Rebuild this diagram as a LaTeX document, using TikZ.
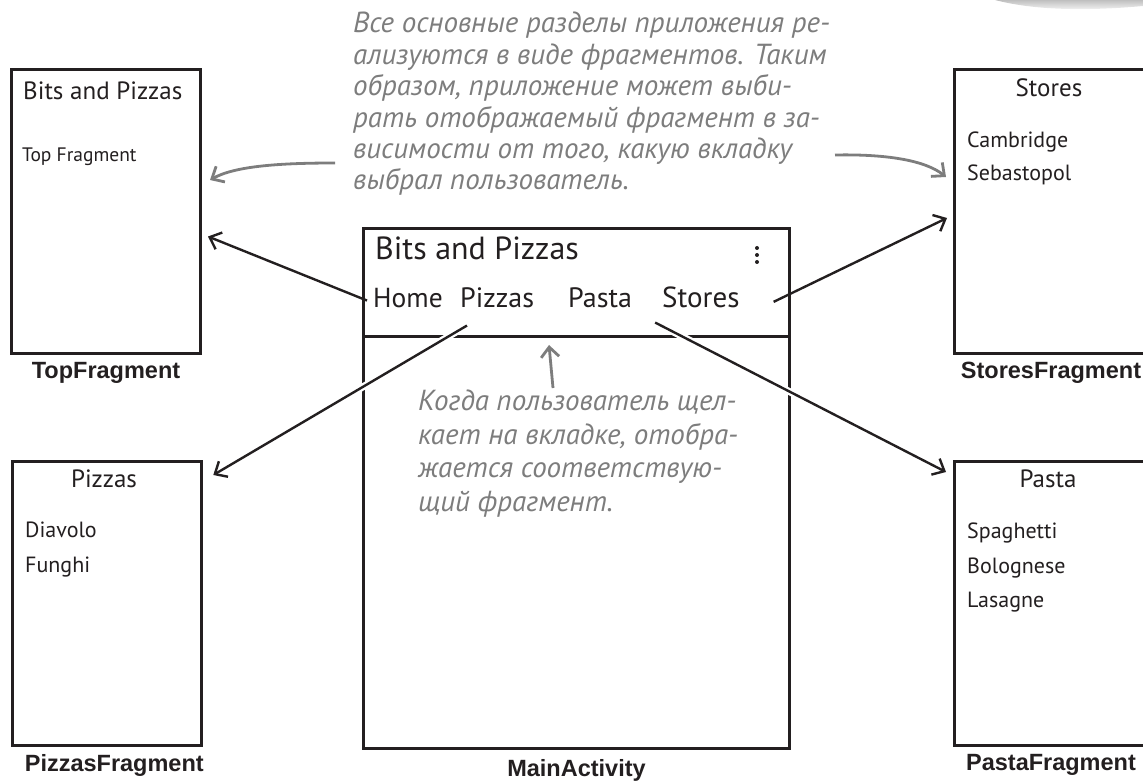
\documentclass[tikz,border=0pt]{standalone}
\usepackage{fontspec}
\setmainfont{PT Sans}
\newfontfamily\notefont{PT Sans}
\newfontfamily\capfont{Liberation Sans}
\usetikzlibrary{positioning,arrows.meta,calc}
\definecolor{skInk}{HTML}{231F20}
\definecolor{skNote}{HTML}{7D7D7D}
\definecolor{skWhite}{HTML}{FFFFFF}
\tikzset{
  sk-screen/.style={
    draw=skInk, line width=3pt, fill=skWhite,
    minimum width=189pt, minimum height=284pt, inner sep=0pt
  },
  sk-wide/.style={sk-screen, minimum width=200pt},
  sk-hand/.style={font=\fontsize{22}{26}\selectfont, text=skInk,
    inner sep=0pt, anchor=base west},
  sk-head/.style={sk-hand, font=\fontsize{25}{28}\selectfont},
  sk-tab/.style={sk-hand, font=\fontsize{28}{32}\selectfont},
  sk-caption/.style={font=\capfont\bfseries\fontsize{23.5}{26}\selectfont,
    text=skInk, inner sep=0pt},
  sk-note/.style={font=\notefont\itshape\fontsize{29}{31.4}\selectfont,
    text=skNote, align=left, inner sep=0pt, anchor=north west},
  sk-flow/.style={-{Straight Barb[length=10pt,width=18pt]},
    line width=2.4pt, draw=skInk},
  sk-flow-x/.style={sk-flow,
    preaction={draw=skWhite, line width=7pt, -, shorten >=22pt, shorten <=2pt}},
  sk-flow-n/.style={sk-flow, line width=2.8pt, draw=skNote}
}

\begin{document}
\begin{tikzpicture}[x=1pt, y=-1pt, node distance=7pt]
\useasboundingbox (0,0) rectangle (1143,783);
\clip (0,0) rectangle (1143,783);

% shadow of a cut-off shape
\shade[top color=black!25, bottom color=white]
  (995,0) .. controls (1040,12) and (1100,10) .. (1143,6) -- (1143,0) -- cycle;

% Fragments
\node[sk-screen] (topbox) at (106,211.5) {};
\node[sk-wide] (storesbox) at (1054.5,211.5) {};
\node[sk-screen] (pizzabox) at (107.3,603.5) {};
\node[sk-wide] (pastabox) at (1054.5,603.5) {};

\node[sk-head] (toptitle) at (23,100) {Bits and Pizzas};
\node[sk-hand, font=\fontsize{19.5}{22}\selectfont] (topitem) at (22,162) {Top Fragment};

\node[sk-head, anchor=base] (storestitle) at (1049,97) {Stores};
\node[sk-hand] (cambridge) at (967,148) {Cambridge};
\node[sk-hand] (sebastopol) at (967,181) {Sebastopol};

\node[sk-head, anchor=base] (pizzatitle) at (104,487) {Pizzas};
\node[sk-hand] (diavolo) at (25,537) {Diavolo};
\node[sk-hand] (funghi) at (25,572) {Funghi};

\node[sk-head, anchor=base] (pastatitle) at (1048,487) {Pasta};
\node[sk-hand] (spaghetti) at (967,538) {Spaghetti};
\node[sk-hand] (bolognese) at (967,573) {Bolognese};
\node[sk-hand] (lasagne) at (967,607) {Lasagne};

\node[sk-caption, below=7pt of topbox] (topcap) {TopFragment};
\node[sk-caption, below=7pt of storesbox, xshift=-3.5pt] (storescap) {StoresFragment};
\node[sk-caption, below=7pt of pizzabox, xshift=7pt] (pizzacap) {PizzasFragment};
\node[sk-caption, below=7pt of pastabox, xshift=-3.5pt] (pastacap) {PastaFragment};

% MainActivity
\node[sk-screen, minimum width=426pt, minimum height=520pt] (mainbox) at (576.5,488.5) {};
\draw[draw=skInk, line width=3pt]
  ([yshift=-110pt]mainbox.north west) -- ([yshift=-110pt]mainbox.north east);
\node[sk-hand, font=\fontsize{32}{36}\selectfont] (apptitle) at (375,260) {Bits and Pizzas};
\foreach \dy in {-7,0,7}
  \fill[skInk] (757,255+\dy) circle (2pt);
\node[sk-tab, font=\fontsize{27.5}{31}\selectfont] (home) at (373,308) {Home};
\node[sk-tab] (pizzas) at (460,308) {Pizzas};
\node[sk-tab] (pasta) at (568,308) {Pasta};
\node[sk-tab, font=\fontsize{29}{32}\selectfont] (stores) at (662,308) {Stores};
\node[sk-caption, below=9pt of mainbox] (maincap) {MainActivity};

% notes
\node[sk-note] (note) at (353,12)
  {Все основные разделы приложения ре-\\ализуются в виде фрагментов. Таким\\образом, приложение может выби-\\рать отображаемый фрагмент в за-\\висимости от того, какую вкладку\\выбрал пользователь.};
\node[sk-note, font=\notefont\itshape\fontsize{29}{33.5}\selectfont] (tabnote) at (418,390)
  {Когда пользователь щел-\\кает на вкладке, отобра-\\жается соответствую-\\щий фрагмент.};
\coordinate (noteL) at (335,163);
\coordinate (noteR) at (835,155);
\coordinate (noteB) at (553,388);

\draw[sk-flow] ($(home.west)+(-6,2)$) -- ($(topbox.east)+(6,25)$);
\draw[sk-flow-x] ($(pizzas.south west)+(7,17)$) -- ($(pizzabox.north east)+(10,15)$);
\draw[sk-flow-x] ($(pasta.south east)+(23,14)$) -- ($(pastabox.north west)+(-7,12)$);
\draw[sk-flow] ($(stores.east)+(34,4)$) -- ($(storesbox.west)+(-6,6.5)$);

\draw[sk-flow-n] (noteL) .. controls (280,163) and (235,166) .. ($(topbox.east)+(8,-31.5)$);
\draw[sk-flow-n] (noteR) .. controls (885,154) and (925,160) .. ($(storesbox.west)+(-7,-34.5)$);
\draw[sk-flow-n] (noteB) -- ($(mainbox.north west)+(187,118)$);
\end{tikzpicture}
\end{document}
